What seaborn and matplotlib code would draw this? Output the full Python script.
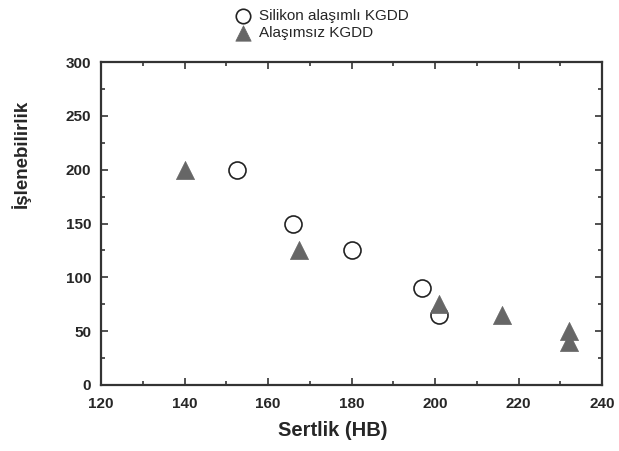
import matplotlib
matplotlib.use("Agg")

import matplotlib.pyplot as plt
from matplotlib.ticker import MultipleLocator
import seaborn as sns
import pandas as pd

# Silikon alaşımlı KGDD
si_hb = [152.5, 166, 180, 197, 201]
si_isl = [200, 150, 125, 90, 65]

# Alaşımsız KGDD
plain_hb = [140, 167.5, 201, 216, 232, 232]
plain_isl = [200, 125, 75, 65, 50, 40]

sns.set_style("ticks")
plt.rcParams["font.family"] = ["Liberation Sans", "DejaVu Sans"]

fig = plt.figure(figsize=(6.19, 4.51), dpi=100)
ax = fig.add_axes([101 / 619, 1 - 385 / 451, 501 / 619, 323 / 451])

df_si = pd.DataFrame({"hb": si_hb, "isl": si_isl})
df_plain = pd.DataFrame({"hb": plain_hb, "isl": plain_isl})

sns.scatterplot(data=df_si, x="hb", y="isl", ax=ax, marker="o", s=150,
                facecolor="white", edgecolor="#222222", linewidth=1.2,
                label="Silikon alaşımlı KGDD", zorder=3)
sns.scatterplot(data=df_plain, x="hb", y="isl", ax=ax, marker="^", s=170,
                color="#666666", edgecolor="#666666", linewidth=0.5,
                label="Alaşımsız KGDD", zorder=4)

ax.set_xlim(120, 240)
ax.set_ylim(0, 300)
ax.xaxis.set_major_locator(MultipleLocator(20))
ax.xaxis.set_minor_locator(MultipleLocator(10))
ax.yaxis.set_major_locator(MultipleLocator(50))
ax.yaxis.set_minor_locator(MultipleLocator(25))
ax.tick_params(which="both", direction="in", top=True, right=True, width=1.2, color="#333333")
ax.tick_params(which="major", length=5, labelsize=11)
ax.tick_params(which="minor", length=3)
ax.tick_params(axis="x", which="major", pad=9)
ax.tick_params(axis="y", which="major", pad=7)
for lbl in ax.get_xticklabels() + ax.get_yticklabels():
    lbl.set_fontweight("bold")
for sp in ax.spines.values():
    sp.set_linewidth(1.6)
    sp.set_color("#333333")

ax.set_xlabel("Sertlik (HB)", fontsize=14.5, fontweight="bold", labelpad=10)
ax.xaxis.set_label_coords(0.463, -0.11)
ax.set_ylabel("İşlenebilirlik", fontsize=13.5, fontweight="bold")
ax.yaxis.set_label_coords(-0.14, 0.715)

handles, labels = ax.get_legend_handles_labels()
ax.get_legend().remove()
fig.legend(handles, labels, loc="upper left", bbox_to_anchor=(222 / 619, 1.0),
           frameon=False, fontsize=11, handletextpad=0.3, labelspacing=0.2,
           borderpad=0.1, handlelength=1.5, markerscale=0.85)

fig.savefig("out.png", dpi=100)
